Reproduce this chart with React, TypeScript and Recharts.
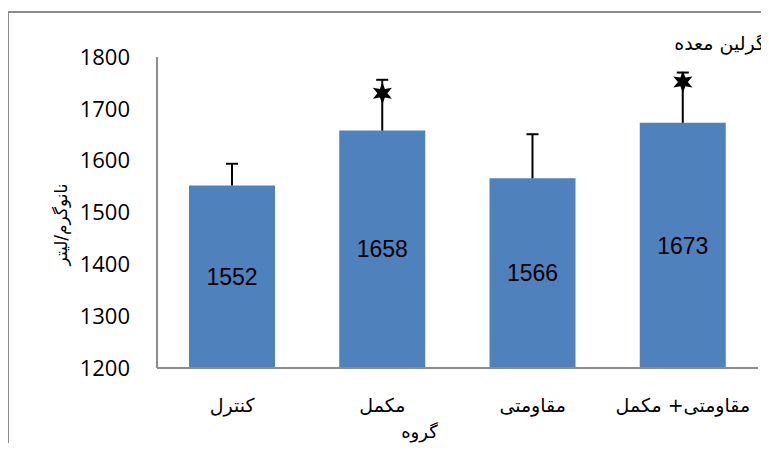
// Bar chart: ghrelin (ng/L) by group, with upward error whiskers and significance stars
import { ComposedChart, Bar, Line, XAxis, YAxis, LabelList, Label } from 'recharts'

const groups = ['کنترل', 'مکمل', 'مقاومتی', 'مقاومتی+ مکمل']
const means = [1552, 1658, 1566, 1673]
const errors = [42, 98, 85, 97]
const stars: (number | null)[] = [null, 1730, null, 1752]
const yTicks = [1200, 1300, 1400, 1500, 1600, 1700, 1800]

const data = groups.map((name, i) => ({
  name,
  mean: means[i],
  top: means[i] + errors[i],
  star: stars[i],
}))

const PERSIAN_FONT = '"DejaVu Sans", sans-serif'
const AXIS_GRAY = '#8c8c8c'

// whisker drawn from the bar top up to mean + error
const Whisker = (props: any) => {
  const { x, y, width } = props
  const cx = x + width / 2
  const h = props.height
  return (
    <g>
      <line x1={cx} x2={cx} y1={y} y2={y + h} stroke="#000" strokeWidth={2} />
      <line x1={cx - 6} x2={cx + 6} y1={y} y2={y} stroke="#000" strokeWidth={2} />
    </g>
  )
}

const StarDot = (props: any) => {
  const { cx, cy, payload, index } = props
  if (payload == null || payload.star == null || cy == null) return <g key={index} />
  const outer = 11
  const inner = 5
  const pts: string[] = []
  for (let k = 0; k < 12; k++) {
    const r = k % 2 === 0 ? outer : inner
    const a = (Math.PI / 6) * k - Math.PI / 2
    pts.push(`${cx + r * Math.cos(a)},${cy + r * Math.sin(a)}`)
  }
  return <polygon key={index} points={pts.join(' ')} fill="#000" />
}

export default function App() {
  return (
    <div
      style={{
        position: 'relative',
        left: -1,
        top: 3,
        width: 761,
        height: 435,
        borderLeft: `2px solid ${AXIS_GRAY}`,
        borderTop: `2px solid ${AXIS_GRAY}`,
        boxSizing: 'border-box',
      }}
    >
      <div
        style={{
          position: 'absolute',
          right: 3,
          top: 19,
          fontFamily: PERSIAN_FONT,
          fontSize: 19,
          direction: 'rtl',
          color: '#000',
        }}
      >
        گرلین معده
      </div>
      <ComposedChart
        width={759}
        height={433}
        data={data}
        margin={{ top: 44, right: 10, bottom: 0, left: 0 }}
      >
        <XAxis
          dataKey="name"
          height={78}
          tickLine={false}
          tickSize={0}
          tickMargin={31}
          axisLine={{ stroke: AXIS_GRAY, strokeWidth: 2 }}
          tick={{ fill: '#000', fontSize: 19, fontFamily: PERSIAN_FONT }}
        >
          <Label
            value="گروه"
            position="insideBottom"
            offset={8}
            dx={-38}
            style={{ fill: '#000', fontSize: 18, fontFamily: PERSIAN_FONT }}
          />
        </XAxis>
        <XAxis xAxisId="whisker" dataKey="name" hide />
        <YAxis
          width={148}
          domain={[1200, 1800]}
          ticks={yTicks}
          allowDataOverflow
          tickLine={false}
          tickSize={0}
          tickMargin={27}
          axisLine={{ stroke: AXIS_GRAY, strokeWidth: 2 }}
          tick={{ fill: '#000', fontSize: 22, fontFamily: '"Open Sans", sans-serif' }}
        >
          <Label
            value="نانوگرم/لیتر"
            angle={-90}
            position="center"
            dx={-22}
            dy={12}
            style={{ fill: '#000', fontSize: 17, fontFamily: PERSIAN_FONT }}
          />
        </YAxis>
        <Bar dataKey="mean" fill="#4F81BD" barSize={86} isAnimationActive={false}>
          <LabelList
            dataKey="mean"
            position="center"
            style={{ fill: '#000', fontSize: 23, fontFamily: '"Liberation Sans", Arial, sans-serif' }}
          />
        </Bar>
        <Bar
          xAxisId="whisker"
          dataKey={(d: any) => [d.mean, d.top]}
          barSize={86}
          shape={Whisker}
          isAnimationActive={false}
        />
        <Line
          dataKey="star"
          stroke="none"
          dot={StarDot}
          activeDot={false}
          legendType="none"
          isAnimationActive={false}
        />
      </ComposedChart>
    </div>
  )
}
